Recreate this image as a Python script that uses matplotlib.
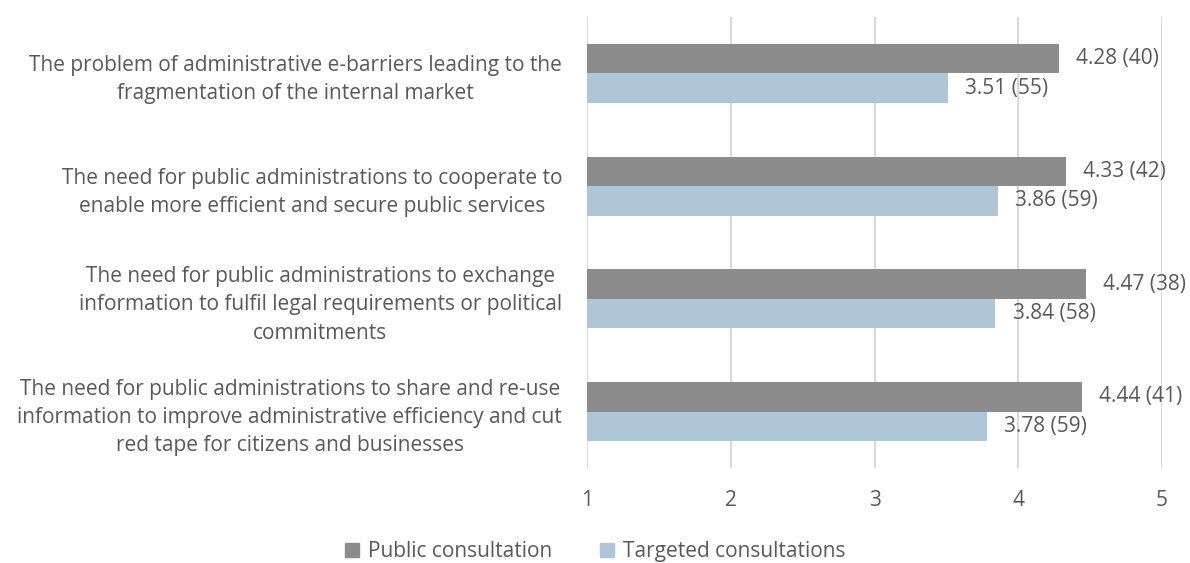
import matplotlib
matplotlib.use("Agg")
import matplotlib.pyplot as plt
from matplotlib.patches import Patch

categories = [
    "The problem of administrative e-barriers leading to the\nfragmentation of the internal market",
    "The need for public administrations to cooperate to\nenable more efficient and secure public services",
    "The need for public administrations to exchange\ninformation to fulfil legal requirements or political\ncommitments",
    "The need for public administrations to share and re-use\ninformation to improve administrative efficiency and cut\nred tape for citizens and businesses",
]
public_vals = [4.28, 4.33, 4.47, 4.44]
public_n = [40, 42, 38, 41]
targeted_vals = [3.51, 3.86, 3.84, 3.78]
targeted_n = [55, 59, 58, 59]
series_names = ["Public consultation", "Targeted consultations"]
xticks = [1, 2, 3, 4, 5]

plt.rcParams['font.family'] = ['Open Sans', 'DejaVu Sans']
txt = '#595959'
c_pub = '#8c8c8c'
c_tar = '#afc6d9'
fs = 15

fig = plt.figure(figsize=(11.9, 5.63), dpi=100)
ax = fig.add_axes([0.4933, 0.1687, 0.4832, 0.8013])

bh = 0.262
ys = list(range(len(categories)))
for i, y in enumerate(ys):
    ax.barh(y - bh / 2, public_vals[i] - 1, left=1, height=bh, color=c_pub, zorder=2)
    ax.barh(y + bh / 2, targeted_vals[i] - 1, left=1, height=bh, color=c_tar, zorder=2)
    ax.text(public_vals[i] + 0.12, y - bh / 2, f"{public_vals[i]:.2f} ({public_n[i]})",
            va='center', ha='left', fontsize=fs, color=txt)
    ax.text(targeted_vals[i] + 0.12, y + bh / 2, f"{targeted_vals[i]:.2f} ({targeted_n[i]})",
            va='center', ha='left', fontsize=fs, color=txt)

ax.set_xlim(1, 5)
ax.set_ylim(len(categories) - 0.5, -0.5)
ax.set_xticks(xticks)
ax.set_xticklabels([str(t) for t in xticks], fontsize=fs, color=txt)
ax.set_yticks(ys)
ax.set_yticklabels(categories, fontsize=fs, color=txt, multialignment='center',
                   linespacing=1.45)
ax.tick_params(axis='both', length=0)
ax.tick_params(axis='x', pad=16)
ax.tick_params(axis='y', pad=18)
ax.grid(axis='x', color='#d9d9d9', linewidth=1.5, zorder=0)
for s in ax.spines.values():
    s.set_visible(False)

handles = [Patch(color=c_pub), Patch(color=c_tar)]
fig.legend(handles, series_names, loc='center', bbox_to_anchor=(0.5, 0.02), ncol=2,
           frameon=False, fontsize=fs, labelcolor=txt, handlelength=0.7, handleheight=0.7,
           handletextpad=0.4, columnspacing=2.3, borderpad=0)

fig.savefig("out.png", dpi=100)
